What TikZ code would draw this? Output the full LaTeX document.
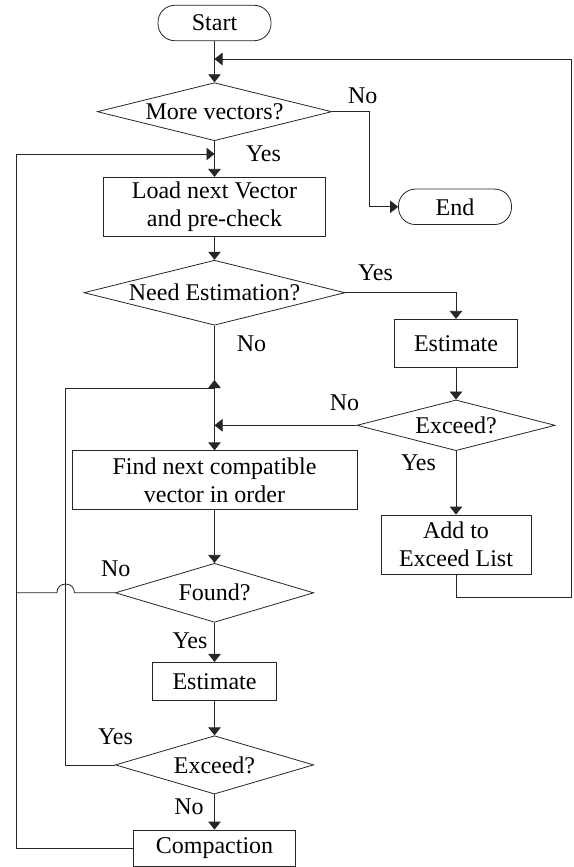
\documentclass[tikz,border=0pt]{standalone}
\usepackage{fontspec}
\setmainfont{Liberation Serif}
\usetikzlibrary{shapes.geometric,arrows.meta,calc}
\tikzset{
  base/.style={draw=black!85, line width=0.8pt, inner sep=0pt, font=\fontsize{24}{28}\selectfont, align=center},
  box/.style={base, rectangle},
  term/.style={base, rectangle, rounded corners=17pt, minimum width=113pt, minimum height=35.5pt},
  dia/.style={base, diamond, aspect=1},
  lbl/.style={inner sep=0pt, font=\fontsize{24}{28}\selectfont},
  conn/.style={draw=black!85, line width=0.8pt},
  arr/.style={conn, -{Triangle[length=8pt,width=12.5pt]}}
}
\begin{document}
\begin{tikzpicture}[x=1pt,y=-1pt]
\useasboundingbox[fill=white] (0,0) rectangle (573,867);
% nodes
\node[term] (start) at (214.5,23) {Start};
\node[dia, minimum width=234.4pt, minimum height=58pt, label={[lbl]center:More vectors?}] (d1) at (214.5,111.7) {};
\node[term] (endn) at (455,206.8) {End};
\node[box, minimum width=222.7pt, minimum height=59.4pt] (load) at (214.5,207) {Load next Vector\\and pre-check};
\node[dia, minimum width=261pt, minimum height=65pt, label={[lbl]center:Need Estimation?}] (d2) at (214.5,292.7) {};
\node[box, minimum width=123.7pt, minimum height=48pt] (est1) at (456,343.3) {Estimate};
\node[dia, minimum width=198.3pt, minimum height=50.7pt, label={[lbl]center:Exceed?}] (exc1) at (456,425.3) {};
\node[box, minimum width=285pt, minimum height=58.3pt] (find) at (214.5,479.9) {Find next compatible\\vector in order};
\node[box, minimum width=150pt, minimum height=59pt] (add) at (456,544.5) {Add to\\Exceed List};
\node[dia, minimum width=198.3pt, minimum height=59pt, label={[lbl]center:Found?}] (found) at (214.5,592.8) {};
\node[box, minimum width=124.4pt, minimum height=37.7pt] (est2) at (214.5,681.2) {Estimate};
\node[dia, minimum width=198.3pt, minimum height=58.3pt, label={[lbl]center:Exceed?}] (exc2) at (214.5,764.9) {};
\node[box, minimum width=161.7pt, minimum height=36pt] (comp) at (214.5,848) {Compaction};
% labels
\node[lbl] (n1) at (362.7,96) {No};
\node[lbl] (y1) at (263.5,154) {Yes};
\node[lbl] (y2) at (375.5,272.5) {Yes};
\node[lbl] (n2) at (251.5,343.3) {No};
\node[lbl] (n3) at (344.5,403) {No};
\node[lbl] (y3) at (418.5,463) {Yes};
\node[lbl] (n4) at (115.8,569) {No};
\node[lbl] (y4) at (190,641) {Yes};
\node[lbl] (y5) at (115.5,737) {Yes};
\node[lbl] (n5) at (189,807) {No};
% coordinates
\coordinate (R1) at (571.5,597.3);
\coordinate (R2) at (571.5,59);
\coordinate (LT) at (16,154);
\coordinate (H) at (65.7,592.8);
\coordinate (LY) at (65.7,388.3);
% connectors
\draw[arr] (start) -- (d1);
\draw[arr] (d1.east) -- ++(37.6,0) |- (endn.west);
\draw[arr] (d1) -- (load);
\draw[arr] (load) -- (d2);
\draw[arr] (d2.east) -| (est1.north);
\draw[arr] (d2) -- (find);
\draw[arr] (est1) -- (exc1);
\draw[arr] (exc1.west) -- (exc1.west -| d2.south);
\draw[arr] (exc1) -- (add);
\draw[arr] (add.south) |- (R1) -- (R2) -- (R2 -| start.south);
\draw[arr] (find) -- (found);
\draw[arr] (found) -- (est2);
\draw[arr] (est2) -- (exc2);
\draw[arr] (exc2) -- (comp);
\draw[arr] (comp.west) -| (LT) -- (LT -| d1.south);
\draw[conn] (found.west) -- ([xshift=8.8pt]H) .. controls ([xshift=8.8pt,yshift=11.7pt]H) and ([xshift=-8.8pt,yshift=11.7pt]H) .. ([xshift=-8.8pt]H) -- (found.west -| LT);
\draw[conn] (exc2.west) -| (LY) -- (LY -| d2.south);
\draw[arr] (LY -| d2.south) -- ++(0,-8.3);
\end{tikzpicture}
\end{document}
